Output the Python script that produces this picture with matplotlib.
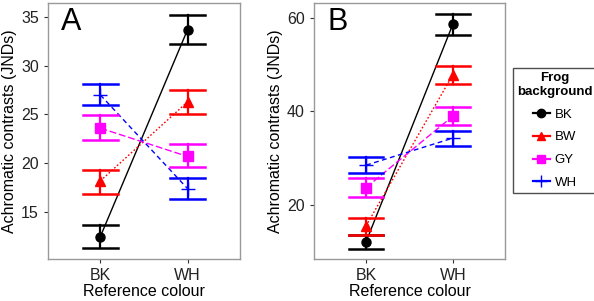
import matplotlib
matplotlib.use('Agg')
import matplotlib.pyplot as plt
from matplotlib.lines import Line2D

plt.rcParams['font.family'] = ['Liberation Sans', 'DejaVu Sans']

ref = ['BK', 'WH']
groups = ['BK', 'BW', 'GY', 'WH']

# panel A: means and error bar limits for ref BK, WH
a_mean = {'BK': [12.5, 33.7], 'BW': [18.2, 26.3], 'GY': [23.6, 20.7], 'WH': [27.0, 17.4]}
a_low = {'BK': [11.3, 32.2], 'BW': [16.9, 25.1], 'GY': [22.4, 19.6], 'WH': [26.0, 16.3]}
a_high = {'BK': [13.7, 35.2], 'BW': [19.3, 27.5], 'GY': [24.9, 22.0], 'WH': [28.1, 18.5]}

# panel B
b_mean = {'BK': [12.1, 58.7], 'BW': [15.5, 47.9], 'GY': [23.7, 39.0], 'WH': [28.5, 34.3]}
b_low = {'BK': [10.6, 56.4], 'BW': [13.5, 45.9], 'GY': [21.7, 37.0], 'WH': [26.8, 32.5]}
b_high = {'BK': [13.6, 60.8], 'BW': [17.1, 49.7], 'GY': [25.7, 40.9], 'WH': [30.2, 35.8]}

colors = {'BK': 'black', 'BW': 'red', 'GY': '#FF00FF', 'WH': 'blue'}
markers = {'BK': 'o', 'BW': '^', 'GY': 's', 'WH': '+'}
lstyles = {'BK': '-', 'BW': (0, (1.2, 1.5)), 'GY': (0, (5, 2)), 'WH': (0, (3.5, 2.5))}

fig = plt.figure(figsize=(5.94, 3.01), dpi=100)
axA = fig.add_axes([0.0808, 0.1395, 0.3232, 0.850])
axB = fig.add_axes([0.5286, 0.1395, 0.3215, 0.850])

x = [1, 2]


def draw(ax, mean, low, high, ylim, yticks, letter):
    for g in groups:
        c = colors[g]
        ax.plot(x, mean[g], color=c, linestyle=lstyles[g], linewidth=1.0, zorder=2)
        for xi, m, lo, hi in zip(x, mean[g], low[g], high[g]):
            ax.plot([xi, xi], [lo, hi], color=c, linewidth=1.6, zorder=3)
            ax.plot([xi - 0.2, xi + 0.2], [lo, lo], color=c, linewidth=1.8, zorder=3)
            ax.plot([xi - 0.2, xi + 0.2], [hi, hi], color=c, linewidth=1.8, zorder=3)
        ms = 10 if g == 'WH' else 6.5
        ax.plot(x, mean[g], linestyle='none', marker=markers[g], color=c,
                markersize=ms, markeredgewidth=1.0, zorder=4)
    ax.set_xlim(0.4, 2.6)
    ax.set_ylim(*ylim)
    ax.set_xticks(x)
    ax.set_xticklabels(ref)
    ax.set_yticks(yticks)
    ax.tick_params(labelsize=11.5, colors='#333333', length=3, width=0.8,
                   labelcolor='#222222')
    for s in ax.spines.values():
        s.set_color('#999999')
        s.set_linewidth(1.0)
    ax.set_xlabel('Reference colour', fontsize=11.5, labelpad=1)
    ax.set_ylabel('Achromatic contrasts (JNDs)', fontsize=11.5, labelpad=3)
    ax.text(0.07, 0.985, letter, transform=ax.transAxes, fontsize=22,
            va='top', ha='left')


draw(axA, a_mean, a_low, a_high, (10.2, 36.4), [15, 20, 25, 30, 35], 'A')
draw(axB, b_mean, b_low, b_high, (8.4, 63.2), [20, 40, 60], 'B')

handles = []
for g in groups:
    ms = 9 if g == 'WH' else 6
    handles.append(Line2D([0], [0], color=colors[g], marker=markers[g],
                          markersize=ms, linewidth=1.6))
leg = fig.legend(handles, groups, title='Frog\nbackground',
                 loc='upper left', bbox_to_anchor=(513 / 594, 1 - 68 / 301),
                 fontsize=9.5, title_fontsize=9.5, frameon=True, fancybox=False,
                 handlelength=1.3, handletextpad=0.35, borderpad=0.3,
                 labelspacing=0.8, borderaxespad=0)
leg.get_title().set_fontweight('bold')
leg.get_title().set_multialignment('center')
leg.get_frame().set_edgecolor('#222222')
leg.get_frame().set_linewidth(1.0)

fig.savefig('out.png', dpi=100)
